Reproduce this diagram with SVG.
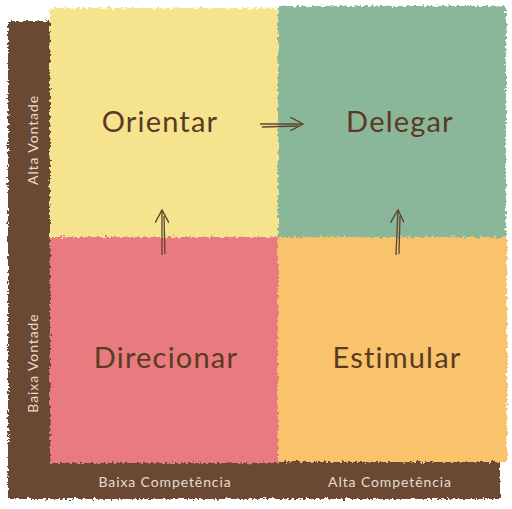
<svg xmlns="http://www.w3.org/2000/svg" width="512" height="509" viewBox="0 0 512 509">
<defs>
<filter id="rough" x="-5%" y="-5%" width="110%" height="110%">
<feTurbulence type="fractalNoise" baseFrequency="0.35" numOctaves="2" seed="3" result="n"/>
<feDisplacementMap in="SourceGraphic" in2="n" scale="6" xChannelSelector="R" yChannelSelector="G"/>
</filter>
<marker id="ah" viewBox="0 0 14 14" refX="13" refY="7" markerWidth="14" markerHeight="14" markerUnits="userSpaceOnUse" orient="auto">
<path d="M0,0 L13,7 L0,14" fill="none" stroke="#5e4530" stroke-width="1.4"/>
</marker>
</defs>
<style>
.lbl{font-family:Lato,"Open Sans",sans-serif;font-size:29px;fill:#5a3a22;text-anchor:middle;letter-spacing:1.2px}
.ax{font-family:Lato,"Open Sans",sans-serif;font-size:14px;fill:#e6ddd0;text-anchor:middle;letter-spacing:0.9px}
.arr{fill:none;stroke:#5e4530;stroke-width:1.3}
</style>
<rect width="512" height="509" fill="#ffffff"/>
<g id="frame" filter="url(#rough)">
<rect x="8" y="21" width="492" height="478" fill="#6b4a30"/>
</g>
<g id="orientar">
<rect x="50" y="8" width="228" height="229" fill="#f5e38e" filter="url(#rough)"/>
<text class="lbl" x="160" y="132">Orientar</text>
</g>
<g id="delegar">
<rect x="278" y="6" width="228" height="231" fill="#8ab69a" filter="url(#rough)"/>
<text class="lbl" x="400" y="132">Delegar</text>
</g>
<g id="direcionar">
<rect x="50" y="237" width="228" height="226" fill="#e97a80" filter="url(#rough)"/>
<text class="lbl" x="166" y="368">Direcionar</text>
</g>
<g id="estimular">
<rect x="278" y="237" width="229" height="225" fill="#f8c36a" filter="url(#rough)"/>
<text class="lbl" x="397" y="368">Estimular</text>
</g>
<g id="axes">
<text class="ax" transform="translate(38,140) rotate(-90)">Alta Vontade</text>
<text class="ax" transform="translate(38,363) rotate(-90)">Baixa Vontade</text>
<text class="ax" x="165" y="487">Baixa Competência</text>
<text class="ax" x="390" y="487">Alta Competência</text>
</g>
<g id="connectors">
<path class="arr" d="M162,255 L162,210" marker-end="url(#ah)"/>
<path class="arr" d="M165,254 L164,216"/>
<path class="arr" d="M260,124 L303,124" marker-end="url(#ah)"/>
<path class="arr" d="M262,127 L298,126"/>
<path class="arr" d="M396,255 L398,210" marker-end="url(#ah)"/>
<path class="arr" d="M399,254 L400,216"/>
</g>
</svg>
